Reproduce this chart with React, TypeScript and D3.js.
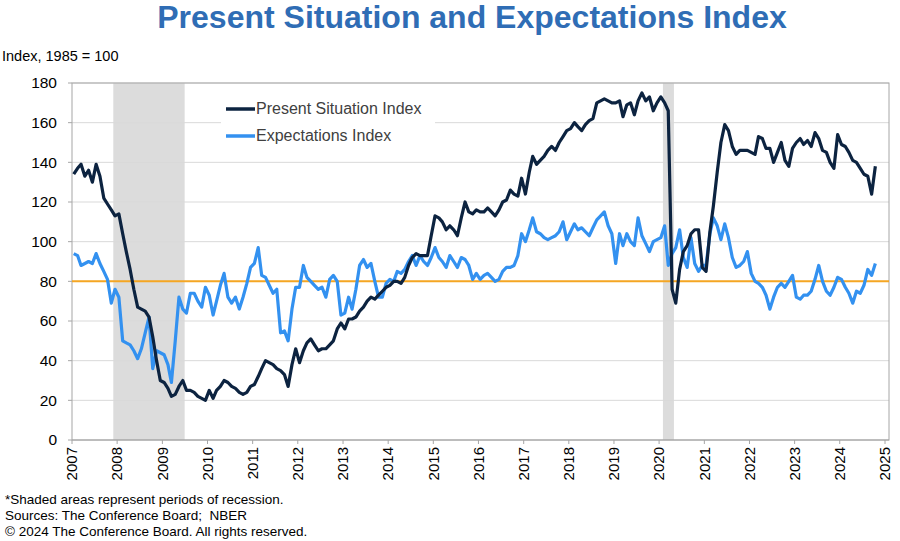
import * as d3 from 'd3';

// Present Situation Index, monthly from Jan 2007
const psi2007 = [134, 137, 139, 133, 136, 130, 139, 133, 122, 119, 116, 113];
const psi2008 = [114, 104, 95, 86, 76, 67, 66, 65, 62, 52, 40, 30];
const psi2009 = [29, 26, 22, 23, 27, 30, 25, 25, 24, 22, 21, 20];
const psi2010 = [25, 21, 25, 27, 30, 29, 27, 26, 24, 23, 24, 27];
const psi2011 = [28, 32, 36, 40, 39, 38, 36, 35, 33, 27, 38, 46];
const psi2012 = [39, 45, 49, 51, 48, 45, 46, 46, 48, 50, 56, 59];
const psi2013 = [56, 61, 61, 62, 65, 67, 70, 72, 71, 73, 75, 77];
const psi2014 = [78, 80, 80, 79, 82, 88, 92, 94, 93, 93, 93, 103];
const psi2015 = [113, 112, 110, 106, 108, 106, 103, 112, 120, 115, 114, 116];
const psi2016 = [115, 115, 117, 115, 113, 116, 120, 121, 126, 124, 123, 132];
const psi2017 = [124, 135, 143, 139, 141, 143, 146, 148, 146, 150, 153, 156];
const psi2018 = [157, 160, 158, 156, 159, 161, 162, 170, 171, 172, 171, 170];
const psi2019 = [170, 171, 163, 169, 170, 164, 171, 175, 171, 173, 166, 170];
const psi2020 = [173, 170, 166, 76, 69, 86, 95, 98, 104, 106, 106, 87];
const psi2021 = [85, 105, 118, 135, 150, 159, 156, 148, 144, 146, 146, 146];
const psi2022 = [145, 144, 153, 152, 147, 147, 140, 145, 150, 141, 138, 147];
const psi2023 = [150, 152, 149, 151, 148, 155, 152, 146, 145, 140, 137, 154];
const psi2024 = [149, 148, 145, 141, 140, 137, 134, 133, 124, 138];

// Expectations Index, monthly from Jan 2007
const exp2007 = [94, 93, 88, 89, 90, 89, 94, 89, 85, 81, 69, 76];
const exp2008 = [72, 50, 49, 48, 45, 41, 46, 54, 62, 36, 45, 44];
const exp2009 = [43, 38, 29, 50, 72, 66, 64, 74, 74, 70, 67, 77];
const exp2010 = [73, 63, 70, 78, 84, 72, 69, 72, 66, 72, 79, 87];
const exp2011 = [89, 97, 83, 82, 78, 74, 76, 54, 55, 50, 66, 77];
const exp2012 = [77, 88, 82, 80, 78, 76, 77, 72, 81, 83, 80, 63];
const exp2013 = [64, 72, 66, 76, 88, 91, 87, 89, 80, 72, 72, 79];
const exp2014 = [81, 80, 85, 84, 86, 90, 93, 88, 93, 90, 88, 92];
const exp2015 = [97, 92, 90, 87, 93, 90, 87, 92, 91, 88, 81, 84];
const exp2016 = [81, 83, 84, 82, 80, 81, 85, 87, 87, 88, 93, 104];
const exp2017 = [100, 106, 112, 105, 104, 102, 101, 102, 103, 105, 110, 101];
const exp2018 = [105, 109, 106, 107, 105, 103, 107, 111, 113, 115, 108, 104];
const exp2019 = [89, 104, 98, 104, 100, 98, 112, 103, 99, 95, 100, 101];
const exp2020 = [102, 108, 88, 94, 97, 106, 92, 87, 102, 89, 85, 88];
const exp2021 = [88, 104, 112, 108, 101, 109, 102, 92, 87, 88, 90, 95];
const exp2022 = [84, 80, 79, 77, 73, 66, 72, 77, 79, 77, 80, 83];
const exp2023 = [72, 71, 73, 73, 75, 81, 88, 80, 75, 73, 77, 82];
const exp2024 = [81, 77, 74, 69, 75, 74, 78, 86, 83, 89];

const presentSituation = [
  ...psi2007, ...psi2008, ...psi2009, ...psi2010, ...psi2011, ...psi2012,
  ...psi2013, ...psi2014, ...psi2015, ...psi2016, ...psi2017, ...psi2018,
  ...psi2019, ...psi2020, ...psi2021, ...psi2022, ...psi2023, ...psi2024,
];
const expectations = [
  ...exp2007, ...exp2008, ...exp2009, ...exp2010, ...exp2011, ...exp2012,
  ...exp2013, ...exp2014, ...exp2015, ...exp2016, ...exp2017, ...exp2018,
  ...exp2019, ...exp2020, ...exp2021, ...exp2022, ...exp2023, ...exp2024,
];

const yearTicks = d3.range(2007, 2026);
const yTicks = [0, 20, 40, 60, 80, 100, 120, 140, 160, 180];
const recessions: [Date, Date][] = [
  [new Date(2007, 11, 1), new Date(2009, 5, 30)],
  [new Date(2020, 1, 1), new Date(2020, 3, 30)],
];
const benchmark = 80;

const NAVY = '#0c2340';
const BLUE = '#3391f0';
const FONT = 'Liberation Sans, Arial, sans-serif';

export default function App() {
  const left = 72;
  const right = 885;
  const top = 83;
  const bottom = 440;

  const x = d3
    .scaleTime()
    .domain([new Date(2007, 0, 1), new Date(2025, 0, 1)])
    .range([left, right]);
  const y = d3.scaleLinear().domain([0, 180]).range([bottom, top]);

  const dateOf = (i: number) => new Date(2007, i, 15);
  const line = d3
    .line<number>()
    .x((_, i) => x(dateOf(i)))
    .y(d => y(d));

  return (
    <svg
      width={900}
      height={541}
      style={{ position: 'absolute', left: 0, top: 0, background: '#fff' }}
      fontFamily={FONT}
    >
      <text x={472} y={28} textAnchor="middle" fontSize={32} fontWeight="bold" fill="#2f6db5">
        Present Situation and Expectations Index
      </text>
      <text x={2} y={61} fontSize={14.5} fill="#000">
        Index, 1985 = 100
      </text>

      {/* recession shading */}
      {recessions.map(([a, b], i) => (
        <rect key={i} x={x(a)} y={top} width={x(b) - x(a)} height={bottom - top} fill="#dcdcdc" />
      ))}

      {/* gridlines */}
      {yTicks.slice(1).map(t => (
        <line key={t} x1={left} x2={889} y1={y(t)} y2={y(t)} stroke="#d9d9d9" strokeWidth={1} />
      ))}

      {/* frame */}
      <rect x={left} y={top} width={889 - left} height={bottom - top} fill="none" stroke="#a6a6a6" strokeWidth={1} />

      {/* legend box */}
      <rect x={221} y={95} width={214} height={54} fill="#fff" />

      <line x1={left} x2={889} y1={y(benchmark)} y2={y(benchmark)} stroke="#f5a623" strokeWidth={2} />

      <path d={line(expectations) ?? ''} fill="none" stroke={BLUE} strokeWidth={3.2} strokeLinejoin="round" />
      <path d={line(presentSituation) ?? ''} fill="none" stroke={NAVY} strokeWidth={3.2} strokeLinejoin="round" />

      {/* y axis */}
      {yTicks.map(t => (
        <g key={t}>
          <line x1={left - 4} x2={left} y1={y(t)} y2={y(t)} stroke="#a6a6a6" />
          <text x={57} y={y(t)} dy="0.35em" textAnchor="end" fontSize={15.5} fill="#000">
            {t}
          </text>
        </g>
      ))}

      {/* x axis */}
      <line x1={left} x2={889} y1={bottom} y2={bottom} stroke="#a6a6a6" />
      {yearTicks.map(yr => {
        const px = x(new Date(yr, 0, 1));
        return (
          <g key={yr}>
            <line x1={px} x2={px} y1={bottom} y2={bottom + 4} stroke="#a6a6a6" />
            <text
              transform={`translate(${px},${bottom + 7}) rotate(-90)`}
              textAnchor="end"
              dy="0.35em"
              fontSize={15}
              fill="#000"
            >
              {yr}
            </text>
          </g>
        );
      })}

      {/* legend */}
      <line x1={226} x2={255} y1={109} y2={109} stroke={NAVY} strokeWidth={3.5} />
      <text x={256} y={114} fontSize={16} fill="#404040">
        Present Situation Index
      </text>
      <line x1={226} x2={255} y1={136} y2={136} stroke={BLUE} strokeWidth={3.5} />
      <text x={256} y={141} fontSize={16} fill="#404040">
        Expectations Index
      </text>

      {/* footer */}
      <g fontSize={13.5} fill="#000">
        <text x={5} y={504}>*Shaded areas represent periods of recession.</text>
        <text x={5} y={520}>{'Sources: The Conference Board;\u00a0 NBER'}</text>
        <text x={5} y={536}>© 2024 The Conference Board. All rights reserved.</text>
      </g>
    </svg>
  );
}
